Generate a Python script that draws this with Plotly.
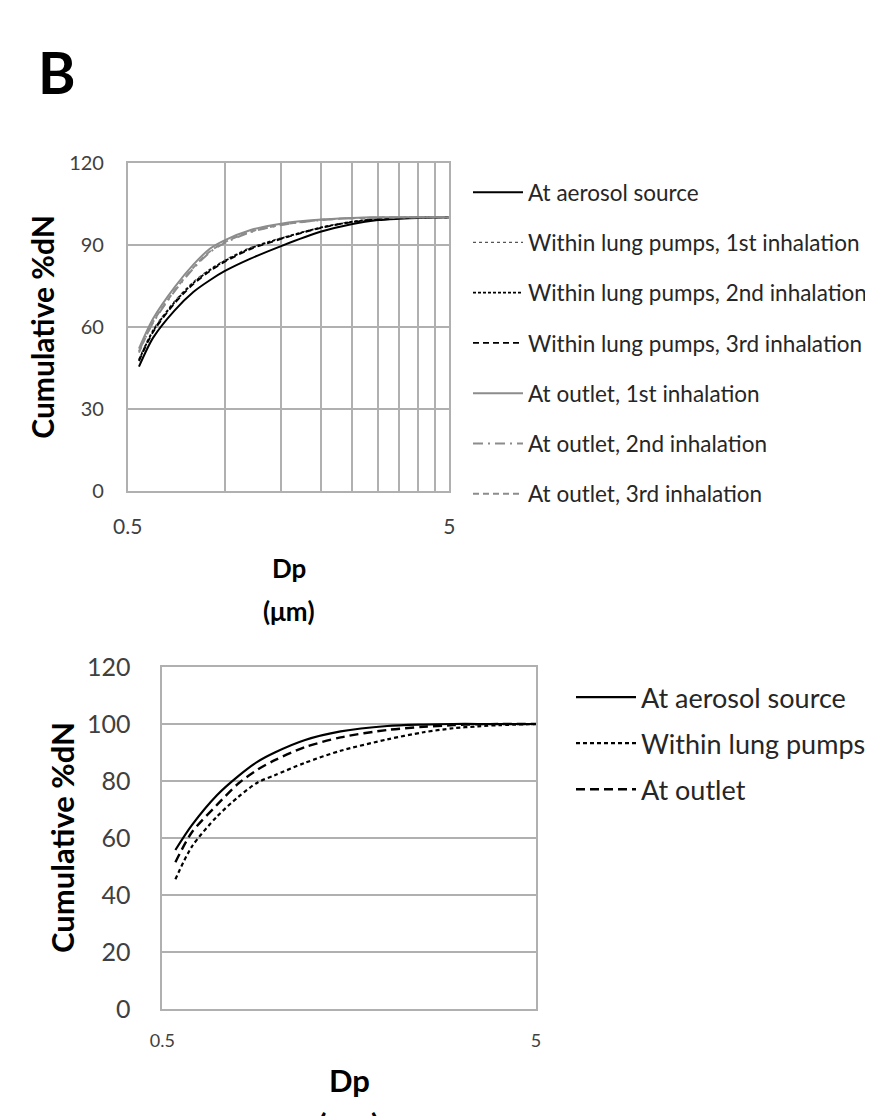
import plotly.graph_objects as go

# ---------------- data ----------------
dp = [0.542, 0.6, 0.7, 0.8, 0.9, 1.0, 1.2, 1.5, 2.0, 2.5, 3.0, 3.5, 4.0, 5.0]

# Panel 1 (top)
top_source = [45.4, 56.0, 66.0, 72.7, 77.0, 80.3, 84.8, 89.5, 94.8, 97.6, 99.0, 99.5, 99.8, 100]
top_lung1 = [48.2, 58.9, 69.4, 76.4, 81.0, 84.3, 88.9, 92.5, 96.4, 98.5, 99.4, 99.8, 100, 100]
top_lung2 = [47.8, 58.5, 69.0, 76.0, 80.7, 84.0, 88.6, 92.3, 96.3, 98.4, 99.4, 99.8, 100, 100]
top_lung3 = [47.4, 58.1, 68.6, 75.6, 80.3, 83.7, 88.3, 92.1, 96.2, 98.3, 99.3, 99.7, 100, 100]
top_out1 = [52.0, 63.0, 74.5, 82.7, 88.5, 91.6, 95.3, 97.7, 99.2, 99.8, 100, 100, 100, 100]
top_out2 = [51.0, 61.5, 73.0, 81.3, 87.2, 90.6, 94.5, 97.2, 99.0, 99.7, 99.9, 100, 100, 100]
top_out3 = [50.5, 61.8, 73.3, 81.6, 87.5, 90.9, 94.7, 97.3, 99.1, 99.7, 99.9, 100, 100, 100]

# Panel 2 (bottom)
bot_source = [55.8, 64.5, 75.0, 81.8, 86.8, 90.0, 94.3, 97.4, 99.3, 99.8, 100, 100, 100, 100]
bot_lung = [45.5, 57.0, 67.5, 74.5, 79.5, 82.0, 86.3, 90.6, 94.6, 97.1, 98.5, 99.2, 99.6, 100]
bot_outlet = [51.5, 62.0, 71.6, 79.2, 84.0, 87.3, 91.8, 95.3, 97.9, 99.0, 99.6, 99.9, 100, 100]

top_names = ["At aerosol source", "Within lung pumps, 1st inhalation",
             "Within lung pumps, 2nd inhalation", "Within lung pumps, 3rd inhalation",
             "At outlet, 1st inhalation", "At outlet, 2nd inhalation", "At outlet, 3rd inhalation"]
bot_names = ["At aerosol source", "Within lung pumps", "At outlet"]

top_gridvals = [0.5, 1, 1.5, 2, 2.5, 3, 3.5, 4, 4.5, 5]
top_gridtext = ["0.5", "", "", "", "", "", "", "", "", "5"]

# ---------------- figure ----------------
OFF = 8                      # page body margin
W, H = 873 - OFF, 1116 - OFF
FONT = "Lato, 'Open Sans', sans-serif"
fig = go.Figure()

top_series = [top_source, top_lung1, top_lung2, top_lung3, top_out1, top_out2, top_out3]
top_styles = [
    dict(color="#000000", width=2, dash="solid"),
    dict(color="#555555", width=1.3, dash="dot"),
    dict(color="#000000", width=1.8, dash="3px,2px"),
    dict(color="#000000", width=1.8, dash="6px,4px"),
    dict(color="#8c8c8c", width=2, dash="solid"),
    dict(color="#8c8c8c", width=2, dash="10px,5px,2px,5px"),
    dict(color="#8c8c8c", width=2, dash="6px,4px"),
]
for i, (vals, nm, st) in enumerate(zip(top_series, top_names, top_styles)):
    fig.add_trace(go.Scatter(x=dp, y=vals, name=nm, mode="lines",
                             line=dict(shape="spline", smoothing=0.8, **st),
                             xaxis="x", yaxis="y", legend="legend",
                             legendgroup="t%d" % i))

bot_series = [bot_source, bot_lung, bot_outlet]
bot_styles = [
    dict(color="#000000", width=2.2, dash="solid"),
    dict(color="#000000", width=2.2, dash="4px,3px"),
    dict(color="#000000", width=2.4, dash="9px,5px"),
]
for i, (vals, nm, st) in enumerate(zip(bot_series, bot_names, bot_styles)):
    fig.add_trace(go.Scatter(x=dp, y=vals, name=nm, mode="lines",
                             line=dict(shape="spline", smoothing=0.8, **st),
                             xaxis="x2", yaxis="y2", legend="legend2",
                             legendgroup="b%d" % i))


def px_x(px):
    return (px - OFF) / W


def px_y(py):
    return 1 - (py - OFF) / H


GRID = "#b0b0b0"
TICK = "#404040"

fig.update_layout(
    width=W, height=H, autosize=False,
    margin=dict(l=0, r=0, t=0, b=0, pad=0, autoexpand=False),
    paper_bgcolor="white", plot_bgcolor="white",
    font=dict(family=FONT, color=TICK),
    xaxis=dict(domain=[px_x(127.7), px_x(449.3)], anchor="y", type="log",
               range=[-0.30103, 0.69897], tickmode="array",
               tickvals=top_gridvals, ticktext=top_gridtext,
               showgrid=True, gridcolor=GRID, gridwidth=1.5,
               showline=True, linecolor=GRID, linewidth=1.5, mirror=True,
               ticks="", ticklabelstandoff=16, automargin=False,
               tickfont=dict(size=21, color=TICK), zeroline=False),
    yaxis=dict(domain=[px_y(490.7), px_y(162.7)], anchor="x",
               range=[0, 120], tickmode="array", tickvals=[0, 30, 60, 90, 120],
               showgrid=True, gridcolor=GRID, gridwidth=1.5,
               showline=True, linecolor=GRID, linewidth=1.5, mirror=True,
               ticks="", ticklabelstandoff=18, automargin=False,
               tickfont=dict(size=20, color=TICK), zeroline=False),
    xaxis2=dict(domain=[px_x(162.3), px_x(536)], anchor="y2", type="log",
                range=[-0.30103, 0.69897], tickmode="array",
                tickvals=[0.5, 5], ticktext=["0.5", "5"],
                showgrid=False,
                showline=True, linecolor=GRID, linewidth=1.5, mirror=True,
                ticks="", ticklabelstandoff=15, automargin=False,
                tickfont=dict(size=18, color=TICK), zeroline=False),
    yaxis2=dict(domain=[px_y(1009), px_y(667)], anchor="x2",
                range=[0, 120], tickmode="array",
                tickvals=[0, 20, 40, 60, 80, 100, 120],
                showgrid=True, gridcolor=GRID, gridwidth=1.5,
                showline=True, linecolor=GRID, linewidth=1.5, mirror=True,
                ticks="", ticklabelstandoff=25, automargin=False,
                tickfont=dict(size=25, color=TICK), zeroline=False),
    legend=dict(x=px_x(468), y=px_y(171), xanchor="left", yanchor="top",
                font=dict(size=22.5, color="#262626", family=FONT),
                bgcolor="rgba(0,0,0,0)", tracegroupgap=18, itemwidth=50,
                traceorder="grouped"),
    legend2=dict(x=px_x(571), y=px_y(673), xanchor="left", yanchor="top",
                 font=dict(size=27, color="#262626", family=FONT),
                 bgcolor="rgba(0,0,0,0)", tracegroupgap=8, itemwidth=60,
                 traceorder="grouped"),
    showlegend=True,
)


def label(text, x, y, size, angle=0):
    return dict(text=text, x=px_x(x), y=px_y(y), xref="paper", yref="paper",
                xanchor="center", yanchor="middle", showarrow=False,
                textangle=angle, font=dict(size=size, color="#000000", family=FONT))


annotations = [
    label("<b>B</b>", 57, 72, 57),
    label("<b>Cumulative %dN</b>", 42, 326.7, 30, -90),
    label("<b>Dp</b>", 288.5, 568, 26),
    label("<b>(μm)</b>", 288.5, 611, 26),
    label("<b>Cumulative %dN</b>", 62, 838, 31, -90),
    label("<b>Dp</b>", 349, 1080, 31),
    label("<b>(μm)</b>", 349, 1124, 31),
]
fig.update_layout(annotations=annotations)

fig.write_html("out.html")
